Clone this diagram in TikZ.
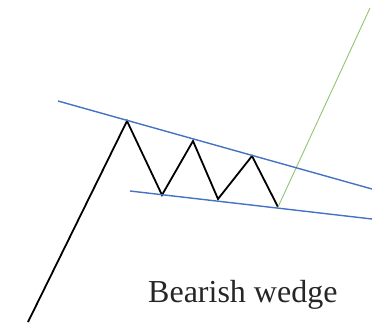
\documentclass[tikz,border=0pt]{standalone}
\usepackage{fontspec}
\setmainfont{Liberation Serif}
\newfontfamily\labelfont{Liberation Serif}
\usetikzlibrary{positioning}
\definecolor{trendblue}{RGB}{68,114,196}
\definecolor{breakgreen}{RGB}{146,196,110}
\tikzstyle{price}=[draw=black, line width=1.8pt, line join=miter]
\tikzstyle{trend}=[draw=trendblue, line width=1.4pt]
\tikzstyle{breakout}=[draw=breakgreen, line width=0.9pt]

\begin{document}
\begin{tikzpicture}[x=1pt, y=-1pt]
            \useasboundingbox (0,0) rectangle (372,325);
            % price swings
            \coordinate (p0) at (28,322);
            \coordinate (p1) at (127,121);
            \coordinate (p2) at (162,195);
            \coordinate (p3) at (193,141);
            \coordinate (p4) at (218,199);
            \coordinate (p5) at (252,156);
            \coordinate (p6) at (278,207);
            \coordinate (top) at (370,8);
            \draw[price] (p0) -- (p1) -- (p2) -- (p3) -- (p4) -- (p5) -- (p6);
            \draw[breakout] (p6) -- (top);
            % wedge boundaries
            \coordinate (u0) at (58,101);
            \coordinate (u1) at (372,189);
            \coordinate (l0) at (130,191);
            \coordinate (l1) at (372,219);
            \draw[trend] (u0) -- (u1);
            \draw[trend] (l0) -- (l1);
            \node[anchor=base west, inner sep=0pt, text=black!85, font=\labelfont\fontsize{32}{36}\selectfont] (label) at (148,302) {Bearish wedge};
        \end{tikzpicture}
\end{document}
